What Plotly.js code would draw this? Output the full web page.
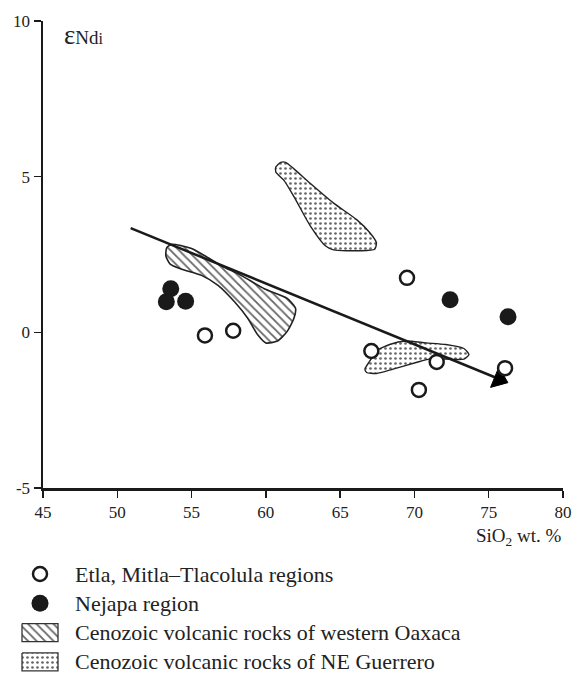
<!DOCTYPE html>
<html>
<head>
<meta charset="utf-8">
<script src="https://cdn.plot.ly/plotly-3.0.1.min.js"></script>
<style>html,body{margin:0;padding:0;background:#fff;}#chart{width:576px;height:691px;}</style>
</head>
<body>
<div id="chart"></div>
<script>
// Etla, Mitla–Tlacolula regions (open circles)
var etlaSiO2 = [55.9, 57.8, 67.1, 69.5, 71.5, 70.3, 76.1];
var etlaNd   = [-0.1, 0.05, -0.6, 1.75, -0.95, -1.85, -1.15];
// Nejapa region (filled circles)
var nejapaSiO2 = [53.6, 53.3, 54.6, 72.4, 76.3];
var nejapaNd   = [1.4, 0.98, 1.0, 1.05, 0.5];
// Cenozoic volcanic rocks of western Oaxaca (hatched field outline)
var oaxacaSiO2 = [53.33,53.67,54.33,55.0,55.89,57.0,58.33,59.89,61.44,62.0,61.89,61.44,60.78,60.0,59.44,58.78,57.89,56.78,55.67,54.33,53.56,53.27,53.33];
var oaxacaNd   = [2.72,2.83,2.78,2.69,2.46,2.14,1.83,1.40,1.09,0.77,0.45,0.03,-0.28,-0.34,-0.07,0.45,0.98,1.51,1.83,2.03,2.19,2.46,2.72];
// Cenozoic volcanic rocks of NE Guerrero (dotted field outlines)
var guerreroUpperSiO2 = [60.67,61.0,61.33,61.89,63.0,64.56,66.11,67.0,67.44,67.33,66.33,64.56,64.0,63.0,61.89,61.22,60.67,60.67];
var guerreroUpperNd   = [5.31,5.46,5.46,5.25,4.78,4.15,3.62,3.20,2.88,2.67,2.62,2.65,2.78,3.41,4.36,4.88,5.15,5.31];
var guerreroLowerSiO2 = [66.67,67.0,67.44,68.33,69.44,70.78,72.11,73.33,73.67,73.33,72.11,71.0,70.11,68.56,67.44,66.78,66.67];
var guerreroLowerNd   = [-1.18,-0.92,-0.60,-0.39,-0.28,-0.34,-0.39,-0.52,-0.71,-0.86,-0.86,-0.86,-0.97,-1.18,-1.32,-1.29,-1.18];
// Trend arrow
var trendSiO2 = [50.9, 75.7];
var trendNd   = [3.35, -1.5];
// Axes ticks
var xTicks = [45, 50, 55, 60, 65, 70, 75, 80];
var yTicks = [-5, 0, 5, 10];
// Legend labels
var legendLabels = [
  'Etla, Mitla–Tlacolula regions',
  'Nejapa region',
  'Cenozoic volcanic rocks of western Oaxaca',
  'Cenozoic volcanic rocks of NE Guerrero'
];

var serif = '"Liberation Serif", "Times New Roman", Times, serif';
var ink = '#1a1a1a';
var hatch = {shape: '\\', fgcolor: '#666', bgcolor: '#fff', size: 6, solidity: 0.3};
var dots = {shape: '.', fgcolor: '#666', bgcolor: '#fff', size: 5, solidity: 0.22};

var openMarker = {symbol: 'circle', size: 14, color: '#fff', line: {color: ink, width: 2.5}};
var fullMarker = {symbol: 'circle', size: 17, color: ink, line: {width: 0}};

var traces = [
  {x: oaxacaSiO2, y: oaxacaNd, type: 'scatter', mode: 'lines', fill: 'toself',
   line: {color: '#222', width: 1.6, shape: 'spline', smoothing: 0.6},
   fillcolor: '#fff', fillpattern: hatch},
  {x: guerreroUpperSiO2, y: guerreroUpperNd, type: 'scatter', mode: 'lines', fill: 'toself',
   line: {color: '#222', width: 1.4, shape: 'spline', smoothing: 0.6},
   fillcolor: '#fff', fillpattern: dots},
  {x: guerreroLowerSiO2, y: guerreroLowerNd, type: 'scatter', mode: 'lines', fill: 'toself',
   line: {color: '#222', width: 1.4, shape: 'spline', smoothing: 0.6},
   fillcolor: '#fff', fillpattern: dots},
  {x: trendSiO2, y: trendNd, type: 'scatter', mode: 'lines+markers',
   line: {color: ink, width: 2.5},
   marker: {symbol: ['circle', 'triangle-up'], size: [0, 19], color: '#000', opacity: 1, angleref: 'previous', line: {width: 1, color: '#000'}}},
  {x: etlaSiO2, y: etlaNd, type: 'scatter', mode: 'markers', marker: openMarker},
  {x: nejapaSiO2, y: nejapaNd, type: 'scatter', mode: 'markers', marker: fullMarker}
];

// ---- manual legend on an auxiliary pixel-scaled subplot (x2/y2) ----
var rowY = function (i) { return 19 + i * 29.3; };   // offsets from legend top
var swatchX = 30, textX = 63, boxHalfW = 18, boxHalfH = 9;
function box(i) {
  var cx = swatchX, cy = rowY(i);
  return {x: [cx - boxHalfW, cx + boxHalfW, cx + boxHalfW, cx - boxHalfW, cx - boxHalfW],
          y: [cy - boxHalfH, cy - boxHalfH, cy + boxHalfH, cy + boxHalfH, cy - boxHalfH]};
}
traces.push({x: [swatchX], y: [rowY(0)], xaxis: 'x2', yaxis: 'y2', type: 'scatter', mode: 'markers', marker: openMarker});
traces.push({x: [swatchX], y: [rowY(1)], xaxis: 'x2', yaxis: 'y2', type: 'scatter', mode: 'markers', marker: fullMarker});
var b2 = box(2), b3 = box(3);
traces.push({x: b2.x, y: b2.y, xaxis: 'x2', yaxis: 'y2', type: 'scatter', mode: 'lines', fill: 'toself',
  line: {color: '#333', width: 1.3}, fillcolor: '#fff', fillpattern: hatch});
traces.push({x: b3.x, y: b3.y, xaxis: 'x2', yaxis: 'y2', type: 'scatter', mode: 'lines', fill: 'toself',
  line: {color: '#333', width: 1.3}, fillcolor: '#fff', fillpattern: dots});

var annotations = legendLabels.map(function (t, i) {
  return {xref: 'x2', yref: 'y2', x: textX, y: rowY(i), xanchor: 'left', yanchor: 'middle',
          showarrow: false, text: t, font: {family: serif, size: 22, color: '#222'}};
});
annotations.push({xref: 'paper', yref: 'paper', x: 0.094, y: 0.979, xanchor: 'left', yanchor: 'middle', showarrow: false,
  text: '<span style="font-size:27px">ε</span>Nd<span style="font-size:16px">i</span>', font: {family: serif, size: 19, color: '#222'}});
annotations.push({xref: 'paper', yref: 'paper', x: 1, y: 0.224, xanchor: 'right', yanchor: 'middle', showarrow: false,
  text: 'SiO<sub>2</sub> wt. %', font: {family: serif, size: 19, color: '#222'}});

var axisStyle = {
  showline: true, linecolor: ink, linewidth: 2.5,
  ticks: 'outside', ticklen: 7, tickwidth: 1.5, tickcolor: ink,
  showgrid: false, zeroline: false, tickfont: {family: serif, size: 17, color: '#222'}
};

var layout = {
  width: 576, height: 691,
  margin: {l: 10, r: 13, t: 21, b: 5},
  paper_bgcolor: '#fff', plot_bgcolor: 'rgba(0,0,0,0)',
  font: {family: serif, color: '#222', size: 17},
  showlegend: false,
  xaxis: Object.assign({range: [45, 80], tickvals: xTicks, ticktext: xTicks.map(String),
    domain: [33 / 553, 1], anchor: 'y'}, axisStyle),
  yaxis: Object.assign({range: [-5, 10], tickvals: yTicks, ticktext: yTicks.map(String),
    domain: [198 / 665, 1], anchor: 'x'}, axisStyle),
  xaxis2: {domain: [0, 1], range: [0, 553], visible: false, anchor: 'y2', fixedrange: true},
  yaxis2: {domain: [0, 131 / 665], range: [131, 0], visible: false, anchor: 'x2', fixedrange: true},
  annotations: annotations
};

Plotly.newPlot('chart', traces, layout, {staticPlot: true, displayModeBar: false});
</script>
</body>
</html>
